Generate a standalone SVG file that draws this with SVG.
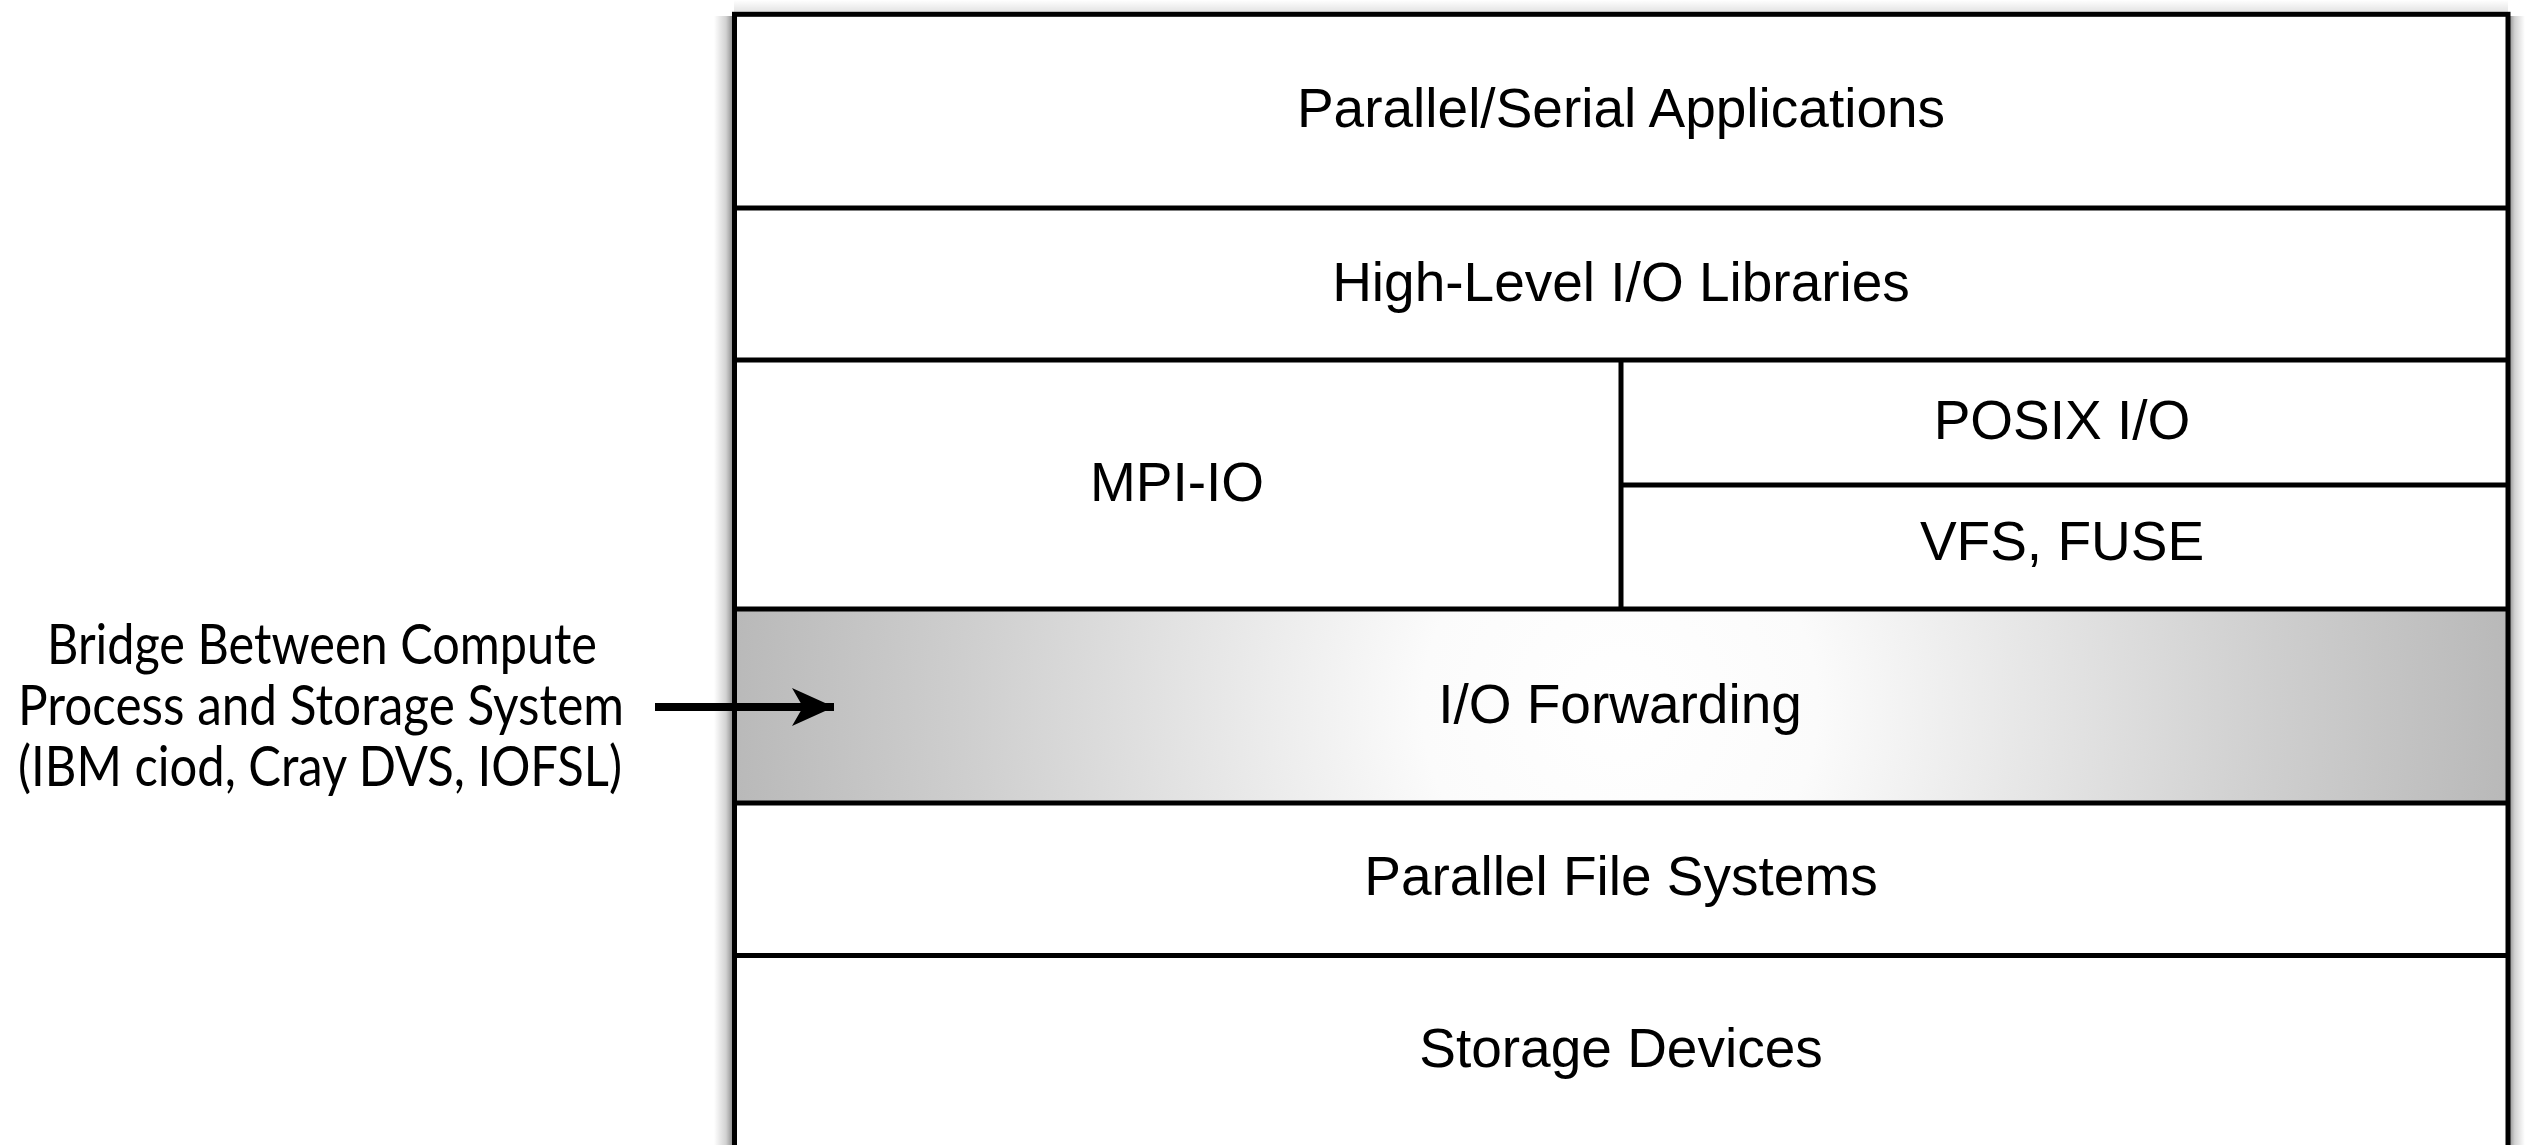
<svg xmlns="http://www.w3.org/2000/svg" width="2525" height="1145" viewBox="0 0 2525 1145">
  <style>
    .line { stroke: #000; stroke-width: 5; fill: none; }
    .lbl { font-family: "Liberation Sans", Arial, sans-serif; font-size: 55px; fill: #000; text-anchor: middle; }
    .note { font-family: Lato, "Open Sans", sans-serif; font-size: 56px; fill: #000; text-anchor: middle; }
  </style>
  <defs>
    <linearGradient id="shL" x1="0" y1="0" x2="1" y2="0">
      <stop offset="0" stop-color="#000" stop-opacity="0"/>
      <stop offset="0.6" stop-color="#000" stop-opacity="0.18"/>
      <stop offset="1" stop-color="#000" stop-opacity="0.5"/>
    </linearGradient>
    <linearGradient id="shR" x1="1" y1="0" x2="0" y2="0">
      <stop offset="0" stop-color="#000" stop-opacity="0"/>
      <stop offset="0.6" stop-color="#000" stop-opacity="0.18"/>
      <stop offset="1" stop-color="#000" stop-opacity="0.5"/>
    </linearGradient>
    <linearGradient id="shT" x1="0" y1="0" x2="0" y2="1">
      <stop offset="0" stop-color="#000" stop-opacity="0"/>
      <stop offset="1" stop-color="#000" stop-opacity="0.12"/>
    </linearGradient>
    <radialGradient id="fwdGrad" gradientUnits="userSpaceOnUse" cx="1620" cy="706" r="900">
      <stop offset="0" stop-color="#ffffff"/>
      <stop offset="0.22" stop-color="#fbfbfb"/>
      <stop offset="0.72" stop-color="#cfcfcf"/>
      <stop offset="1" stop-color="#b8b8b8"/>
    </radialGradient>
    <marker id="arrowHead" markerUnits="userSpaceOnUse" markerWidth="46" markerHeight="42" refX="42" refY="21" orient="auto">
      <path d="M42,21 L0,2 L11,21 L0,40 Z" fill="#000"/>
    </marker>
  </defs>

  <rect width="2525" height="1145" fill="#fff"/>

  <!-- shadow -->
  <g id="shadow">
    <rect x="714" y="16" width="20" height="1129" fill="url(#shL)"/>
    <rect x="2508" y="16" width="17" height="1129" fill="url(#shR)"/>
    <rect x="734" y="0" width="1774" height="13" fill="url(#shT)"/>
  </g>

  <g id="node-apps">
    <rect x="734.5" y="14.3" width="1773.5" height="193.7" fill="#fff"/>
    <text class="lbl" x="1621" y="127">Parallel/Serial Applications</text>
  </g>
  <g id="node-hl-libs">
    <rect x="734.5" y="208" width="1773.5" height="152" fill="#fff"/>
    <text class="lbl" x="1621" y="301">High-Level I/O Libraries</text>
  </g>
  <g id="node-mpiio">
    <rect x="734.5" y="360" width="886.5" height="249" fill="#fff"/>
    <text class="lbl" x="1177" y="501">MPI-IO</text>
  </g>
  <g id="node-posix">
    <rect x="1621" y="360" width="887" height="125" fill="#fff"/>
    <text class="lbl" x="2062" y="439">POSIX I/O</text>
  </g>
  <g id="node-vfs">
    <rect x="1621" y="485" width="887" height="124" fill="#fff"/>
    <text class="lbl" x="2062" y="560">VFS, FUSE</text>
  </g>
  <g id="node-fwd">
    <rect x="734.5" y="609" width="1773.5" height="194" fill="url(#fwdGrad)"/>
    <text class="lbl" x="1620" y="723">I/O Forwarding</text>
  </g>
  <g id="node-pfs">
    <rect x="734.5" y="803" width="1773.5" height="152.5" fill="#fff"/>
    <text class="lbl" x="1621" y="895">Parallel File Systems</text>
  </g>
  <g id="node-storage">
    <rect x="734.5" y="955.5" width="1773.5" height="220" fill="#fff"/>
    <text class="lbl" x="1621" y="1067">Storage Devices</text>
  </g>

  <!-- borders and dividers -->
  <g id="frame">
    <rect class="line" x="734.5" y="14.3" width="1773.5" height="1170"/>
    <line class="line" x1="734.5" y1="208" x2="2508" y2="208"/>
    <line class="line" x1="734.5" y1="360" x2="2508" y2="360"/>
    <line class="line" x1="1621" y1="485" x2="2508" y2="485"/>
    <line class="line" x1="1621" y1="360" x2="1621" y2="609"/>
    <line class="line" x1="734.5" y1="609" x2="2508" y2="609"/>
    <line class="line" x1="734.5" y1="803" x2="2508" y2="803"/>
    <line class="line" x1="734.5" y1="955.5" x2="2508" y2="955.5"/>
  </g>

  <g id="node-bridge-note">
    <text class="note" x="322" y="664" textLength="550" lengthAdjust="spacingAndGlyphs">Bridge Between Compute</text>
    <text class="note" x="321" y="725" textLength="606" lengthAdjust="spacingAndGlyphs">Process and Storage System</text>
    <text class="note" x="320" y="786" textLength="604" lengthAdjust="spacingAndGlyphs">(IBM ciod, Cray DVS, IOFSL)</text>
  </g>

  <g id="connectors">
    <line x1="655" y1="707" x2="834" y2="707" stroke="#000" stroke-width="8" marker-end="url(#arrowHead)"/>
  </g>
</svg>
